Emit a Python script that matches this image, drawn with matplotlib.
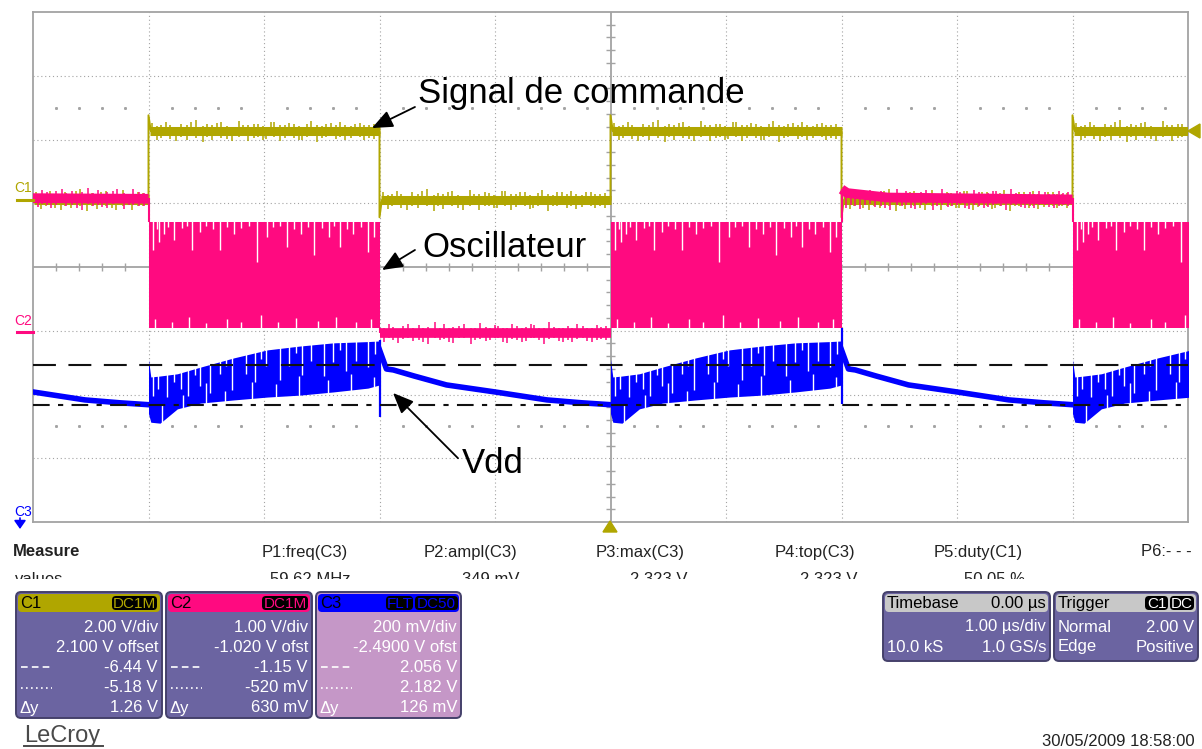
import numpy as np
import matplotlib.pyplot as plt
from matplotlib.patches import FancyBboxPatch, Polygon
from matplotlib.transforms import Bbox

plt.rcParams['font.family'] = ['Liberation Sans', 'DejaVu Sans']

W, H = 1202, 749

# scope settings
c1_vdiv, c1_ofst = 2.00, 2.100
c2_vdiv, c2_ofst = 1.00, -1.020
c3_vdiv, c3_ofst = 0.200, -2.4900
c3_cursor_dashdot = 2.056
c3_cursor_dash = 2.182

# C1 - command signal (µs, V)
c1_t = [-5.0, -4.0, -4.0, -3.98, -2.0, -2.0, -1.98, 0.0, 0.0, 0.02, 2.0, 2.0, 2.02, 4.0, 4.0, 4.02, 5.0]
c1_v = [0.0, 0.0, 2.66, 2.16, 2.16, -0.54, 0.0, 0.0, 2.66, 2.16, 2.16, -0.54, 0.0, 0.0, 2.66, 2.16, 2.16]
c1_segments = [(-5.0, -4.0, 0.0), (-4.0, -2.0, 2.16), (-2.0, 0.0, 0.0),
               (0.0, 2.0, 2.16), (2.0, 4.0, 0.0), (4.0, 5.0, 2.16)]

# C2 - oscillator: idle levels between bursts, burst envelope
c2_idle_t = [[-5.0, -4.0], [-2.0, 0.0], [2.0, 2.05, 2.4, 4.0]]
c2_idle_v = [[2.10, 2.09], [-0.02, -0.02], [2.24, 2.18, 2.11, 2.08]]
burst_starts = [-4.0, 0.0, 4.0]
c2_burst_hi, c2_burst_lo = 1.73, 0.06
c2_top_notch_tau = [0.04, 0.07, 0.09, 0.13, 0.17, 0.22, 0.29, 0.33, 0.38, 0.45, 0.5, 0.56, 0.62, 0.68,
                    0.74, 0.8, 0.87, 0.94, 1.03, 1.08, 1.14, 1.2, 1.26, 1.32, 1.38, 1.43, 1.5, 1.56,
                    1.61, 1.66, 1.72, 1.77, 1.84, 1.9, 1.95]
c2_top_notch_len = [0.44, 0.12, 0.31, 0.19, 0.08, 0.28, 0.1, 0.06, 0.44, 0.16, 0.07, 0.12, 0.44, 0.08,
                    0.19, 0.1, 0.07, 0.63, 0.24, 0.09, 0.06, 0.39, 0.11, 0.19, 0.08, 0.52, 0.1, 0.24,
                    0.07, 0.39, 0.12, 0.19, 0.08, 0.47, 0.24]
c2_bot_notch_tau = [0.06, 0.2, 0.35, 0.5, 0.68, 0.8, 0.97, 1.12, 1.28, 1.47, 1.62, 1.8, 1.93]
c2_bot_notch_len = [0.14, 0.1, 0.18, 0.08, 0.15, 0.1, 0.2, 0.09, 0.16, 0.12, 0.18, 0.1, 0.14]

# C3 - Vdd: discharge after each falling edge, ripple while oscillating
fall_starts = [-6.0, -2.0, 2.0]
c3_decay_tau = [0.0, 0.06, 0.12, 0.3, 0.58, 1.0, 1.45, 1.75, 2.0]
c3_decay_v = [2.23, 2.17, 2.167, 2.148, 2.12, 2.098, 2.073, 2.064, 2.058]
c3_burst_tau = [0.0, 0.02, 0.1, 0.25, 0.45, 0.74, 1.03, 1.31, 1.6, 1.9, 2.0]
c3_burst_top = [2.20, 2.145, 2.148, 2.155, 2.176, 2.205, 2.230, 2.242, 2.252, 2.256, 2.258]
c3_burst_bot = [2.03, 2.003, 2.0, 2.045, 2.063, 2.073, 2.082, 2.088, 2.098, 2.110, 2.120]
c3_top_notch_tau = [0.04, 0.08, 0.16, 0.22, 0.28, 0.34, 0.4, 0.45, 0.53, 0.62, 0.67, 0.72, 0.84, 0.92,
                    0.97, 1.02, 1.14, 1.22, 1.28, 1.33, 1.41, 1.52, 1.6, 1.66, 1.71, 1.8, 1.9, 1.96]
c3_top_notch_len = [0.3, 0.2, 0.35, 0.12, 0.25, 0.4, 0.1, 0.3, 0.45, 0.2, 0.1, 0.5, 0.3, 0.45,
                    0.12, 0.25, 0.5, 0.3, 0.1, 0.45, 0.25, 0.5, 0.3, 0.12, 0.45, 0.3, 0.4, 0.2]
c3_bot_notch_tau = [0.12, 0.3, 0.5, 0.66, 0.9, 1.1, 1.3, 1.55, 1.75, 1.95]
c3_bot_notch_len = [0.25, 0.2, 0.3, 0.15, 0.25, 0.2, 0.3, 0.2, 0.25, 0.15]
c3_edge_lo = [2.019, 2.06]
c3_edge_hi = [2.26, 2.30]

# small noise excursions on the flat traces (µs from segment start, div from trace centre)
flat_spike_tau = [0.03, 0.07, 0.11, 0.15, 0.19, 0.24, 0.28, 0.33, 0.37, 0.41, 0.47, 0.51, 0.55,
                  0.59, 0.63, 0.68, 0.72, 0.78, 0.82, 0.86, 0.91, 0.95, 0.99, 1.02, 1.06, 1.09,
                  1.14, 1.18, 1.22, 1.26, 1.3, 1.33, 1.37, 1.41, 1.46, 1.5, 1.54, 1.58, 1.62,
                  1.66, 1.7, 1.75, 1.79, 1.83, 1.87, 1.91, 1.95]
flat_spike_hi = [0.13, 0.08, 0.1, 0.15, 0.09, 0.07, 0.12, 0.1, 0.14, 0.17, 0.08, 0.11, 0.09,
                 0.13, 0.15, 0.08, 0.07, 0.16, 0.1, 0.09, 0.12, 0.11, 0.08, 0.07, 0.14, 0.15,
                 0.09, 0.1, 0.13, 0.12, 0.08, 0.07, 0.11, 0.16, 0.09, 0.08, 0.12, 0.13, 0.1,
                 0.14, 0.09, 0.08, 0.12, 0.13, 0.1, 0.09, 0.11]
flat_spike_lo = [0.08, 0.14, 0.1, 0.07, 0.12, 0.15, 0.09, 0.13, 0.08, 0.1, 0.17, 0.09, 0.14,
                 0.08, 0.1, 0.12, 0.15, 0.09, 0.08, 0.16, 0.1, 0.09, 0.13, 0.12, 0.08, 0.09,
                 0.15, 0.11, 0.08, 0.1, 0.14, 0.13, 0.09, 0.08, 0.17, 0.1, 0.09, 0.08, 0.12,
                 0.09, 0.14, 0.11, 0.08, 0.09, 0.13, 0.1, 0.12]

# measurement strip
measure_names = ['P1:freq(C3)', 'P2:ampl(C3)', 'P3:max(C3)', 'P4:top(C3)', 'P5:duty(C1)', 'P6:- - -']
measure_values = ['59.62 MHz', '349 mV', '2.323 V', '2.323 V', '50.05 %', '']
measure_right = [348, 517, 685, 855, 1023, 1192]

c1_rows = ['2.00 V/div', '2.100 V offset', '-6.44 V', '-5.18 V', '1.26 V']
c2_rows = ['1.00 V/div', '-1.020 V ofst', '-1.15 V', '-520 mV', '630 mV']
c3_rows = ['200 mV/div', '-2.4900 V ofst', '2.056 V', '2.182 V', '126 mV']

YEL = '#b0a600'
PNK = '#ff0a80'
BLU = '#0000ff'
GRID = '#a3a3a3'
BODY = '#6b64a1'
EDGE = '#45416b'


def d1(v):
    return (np.asarray(v) + c1_ofst) / c1_vdiv


def d2(v):
    return (np.asarray(v) + c2_ofst) / c2_vdiv


def d3(v):
    return (np.asarray(v) + c3_ofst) / c3_vdiv


fig = plt.figure(figsize=(W / 100, H / 100), dpi=100)
fig.patch.set_facecolor('white')

ax = fig.add_axes([33 / W, 1 - 522 / H, 1155 / W, 510 / H])
ax.set_xlim(-5, 5)
ax.set_ylim(-4, 4)
ax.set_xticks([])
ax.set_yticks([])
for s in ax.spines.values():
    s.set_color(GRID)
    s.set_linewidth(1.3)

# graticule
for x in range(-4, 5):
    if x != 0:
        ax.axvline(x, color=GRID, lw=0.8, ls=(0, (1, 2.5)), zorder=1)
for y in range(-3, 4):
    if y != 0:
        ax.axhline(y, color=GRID, lw=0.8, ls=(0, (1, 2.5)), zorder=1)
ax.axhline(0, color=GRID, lw=1.3, zorder=1)
ax.axvline(0, color=GRID, lw=1.3, zorder=1)
minor_x = np.arange(-4.8, 5.0, 0.2)
minor_x = minor_x[np.abs(minor_x - np.round(minor_x)) > 0.05]
ax.vlines(minor_x, -0.07, 0.07, color=GRID, lw=1.0, zorder=1)
minor_y = np.arange(-3.8, 4.0, 0.2)
minor_y = minor_y[np.abs(minor_y - np.round(minor_y)) > 0.05]
ax.hlines(minor_y, -0.035, 0.035, color=GRID, lw=1.0, zorder=1)
for yy in (2.5, -2.5):
    ax.plot(minor_x, np.full(len(minor_x), yy), ls='none', marker='s', ms=1.1, color=GRID, zorder=1)


def flat_noise(t0, t1, level_div, color, z, flip=False):
    tau = np.array(flat_spike_tau)
    keep = tau < (t1 - t0) - 0.02
    hi = np.array(flat_spike_hi)[keep]
    lo = np.array(flat_spike_lo)[keep]
    if flip:
        hi, lo = lo, hi
    ax.vlines(t0 + tau[keep], level_div - lo, level_div + hi, color=color, lw=1.1, zorder=z)


# C1: thin edges, thick noisy levels
ax.plot(c1_t, d1(c1_v), color=YEL, lw=1.4, zorder=3)
for t0, t1, lvl in c1_segments:
    ax.plot([t0 + 0.01, t1], [d1(lvl), d1(lvl)], color=YEL, lw=6.5, solid_capstyle='butt', zorder=3)
    flat_noise(t0, t1, d1(lvl), YEL, 3)

# C2
for ts, vs in zip(c2_idle_t, c2_idle_v):
    ax.plot(ts, d2(vs), color=PNK, lw=7.0, solid_capstyle='butt', zorder=4)
    flat_noise(ts[0] + 0.01, ts[-1], d2(vs[-1]), PNK, 4, flip=True)
for b in burst_starts:
    ax.fill_between([b, b + 2.0], d2(c2_burst_lo), d2(c2_burst_hi), color=PNK, lw=0, zorder=4)
    tn = b + np.array(c2_top_notch_tau)
    ax.vlines(tn, d2(c2_burst_hi) - np.array(c2_top_notch_len), d2(c2_burst_hi) + 0.02,
              color='white', lw=1.0, zorder=4)
    tb = b + np.array(c2_bot_notch_tau)
    ax.vlines(tb, d2(c2_burst_lo) - 0.02, d2(c2_burst_lo) + np.array(c2_bot_notch_len),
              color='white', lw=1.0, zorder=4)
# edges joining idle level and bursts
ax.vlines([-4.0, 4.0], d2(c2_burst_hi), d2(2.1), color=PNK, lw=1.5, zorder=4)
ax.vlines([-2.0], d2(-0.02), d2(c2_burst_lo), color=PNK, lw=1.5, zorder=4)
ax.vlines([2.0], d2(c2_burst_hi), d2(2.24), color=PNK, lw=1.5, zorder=4)

# C3
for f in fall_starts:
    ax.plot(f + np.array(c3_decay_tau), d3(c3_decay_v), color=BLU, lw=4.0, zorder=5)
for b in burst_starts:
    tt = b + np.array(c3_burst_tau)
    top = d3(c3_burst_top)
    bot = d3(c3_burst_bot)
    ax.fill_between(tt, bot, top, color=BLU, lw=0, zorder=5)
    tn = np.array(c3_top_notch_tau)
    ytop = np.interp(tn, c3_burst_tau, top)
    ax.vlines(b + tn, ytop - np.array(c3_top_notch_len), ytop + 0.02, color='white', lw=1.0, zorder=5)
    tb = np.array(c3_bot_notch_tau)
    ybot = np.interp(tb, c3_burst_tau, bot)
    ax.vlines(b + tb, ybot - 0.02, ybot + np.array(c3_bot_notch_len), color='white', lw=1.0, zorder=5)
ax.vlines([-2.0, 2.0], d3(c3_edge_lo), d3(c3_edge_hi), color=BLU, lw=1.6, zorder=5)

# C3 cursors
ax.axhline(d3(c3_cursor_dash), color='#111111', lw=1.5, ls=(0, (11, 6)), zorder=6)
ax.axhline(d3(c3_cursor_dashdot), color='#111111', lw=1.5, ls=(0, (8, 4, 2.5, 4)), zorder=6)

# annotations
arrow = dict(arrowstyle='-|>,head_length=0.9,head_width=0.38', color='black', lw=1.3,
             shrinkA=0, shrinkB=0, mutation_scale=14)
ax.text(-1.667, 2.57, 'Signal de commande', fontsize=25, va='baseline', ha='left', zorder=7)
ax.annotate('', xy=(-2.065, 2.18), xytext=(-1.693, 2.51), arrowprops=arrow, zorder=7)
ax.text(-1.632, 0.157, 'Oscillateur', fontsize=25, va='baseline', ha='left', zorder=7)
ax.annotate('', xy=(-1.978, -0.047), xytext=(-1.693, 0.267), arrowprops=arrow, zorder=7)
ax.text(-1.286, -3.23, 'Vdd', fontsize=25, va='baseline', ha='left', zorder=7)
ax.annotate('', xy=(-1.883, -1.976), xytext=(-1.32, -3.0), arrowprops=arrow, zorder=7)

# overlay in pixel units for the labels and status panels
ap = fig.add_axes([0, 0, 1, 1], zorder=5)
ap.set_xlim(0, W)
ap.set_ylim(H, 0)
ap.axis('off')
ap.patch.set_alpha(0)

# channel markers on the left edge
ap.text(14, 188, 'C1', color=YEL, fontsize=10, va='center', ha='left')
ap.plot([17, 33], [200, 200], color=YEL, lw=2.2)
ap.text(14, 321, 'C2', color=PNK, fontsize=10, va='center', ha='left')
ap.plot([17, 33], [332, 332], color=PNK, lw=2.2)
ap.text(14, 512, 'C3', color=BLU, fontsize=10, va='center', ha='left')
ap.annotate('', xy=(20, 529), xytext=(20, 518),
            arrowprops=dict(arrowstyle='-|>,head_length=0.5,head_width=0.35', color=BLU, lw=1.2,
                            shrinkA=0, shrinkB=0, mutation_scale=10))
ap.add_patch(Polygon([(1188, 131), (1200, 124), (1200, 138)], closed=True, color=YEL))
ap.add_patch(Polygon([(610, 521), (603, 532), (617, 532)], closed=True, color=YEL))

# measurement strip
ap.text(13, 552, 'Measure', fontsize=12, fontweight='bold', va='center', ha='left', color='#222222')
for name, xr in zip(measure_names, measure_right):
    ap.text(xr, 552, name, fontsize=12, va='center', ha='right', color='#222222')
clip = Bbox([[0, H - 579], [W, H - 565]])
t = ap.text(15, 572, 'values', fontsize=12, va='top', ha='left', color='#222222')
t.set_clip_box(clip)
t.set_clip_on(True)
for val, xr in zip(measure_values, measure_right):
    if val:
        t = ap.text(xr + 2, 572, val, fontsize=12, va='top', ha='right', color='#222222')
        t.set_clip_box(clip)
        t.set_clip_on(True)


def badge(x0, x1, label, color):
    ap.add_patch(FancyBboxPatch((x0, 596), x1 - x0, 14, boxstyle='round,pad=0,rounding_size=4',
                                fc='black', ec='none', zorder=7))
    ap.text((x0 + x1) / 2, 603.5, label, color=color, fontsize=11, va='center', ha='center', zorder=8)


def panel(x0, x1, y1, head_color, body_color, title, title_color='black'):
    ap.add_patch(FancyBboxPatch((x0, 592), x1 - x0, y1 - 592, boxstyle='round,pad=0,rounding_size=5',
                                fc=body_color, ec=EDGE, lw=1.4, zorder=5))
    ap.add_patch(FancyBboxPatch((x0 + 2, 594), x1 - x0 - 4, 18, boxstyle='round,pad=0,rounding_size=4',
                                fc=head_color, ec='none', zorder=6))
    ap.text(x0 + 4, 603.5, title, color=title_color, fontsize=12, va='center', ha='left', zorder=8)


row_y = [627, 647, 667, 688, 708]
for (x0, x1, hc, bc, title, rows) in [(16, 162, YEL, BODY, 'C1', c1_rows),
                                      (166, 312, PNK, BODY, 'C2', c2_rows),
                                      (316, 461, BLU, '#c597c7', 'C3', c3_rows)]:
    panel(x0, x1, 718, hc, bc, title)
    for txt, yy in zip(rows, row_y):
        ap.text(x1 - 4, yy, txt, color='white', fontsize=12, va='center', ha='right', zorder=8)
    ap.text(x0 + 4, row_y[4], 'Δy', color='white', fontsize=12, va='center', ha='left', zorder=8)
    ap.plot([x0 + 5, x0 + 36], [row_y[2], row_y[2]], color='white', lw=1.2, ls=(0, (4, 2.5)), zorder=8)
    ap.plot([x0 + 5, x0 + 36], [row_y[3], row_y[3]], color='white', lw=1.2, ls=(0, (1, 2)), zorder=8)

badge(112, 157, 'DC1M', YEL)
badge(262, 308, 'DC1M', PNK)
badge(386, 413, 'FLT', BLU)
badge(415, 458, 'DC50', BLU)

panel(883, 1050, 661, '#c8c8c8', BODY, 'Timebase')
ap.text(1046, 603.5, '0.00 µs', fontsize=12, va='center', ha='right', zorder=8)
ap.text(1046, 627, '1.00 µs/div', color='white', fontsize=12, va='center', ha='right', zorder=8)
ap.text(887, 647, '10.0 kS', color='white', fontsize=12, va='center', ha='left', zorder=8)
ap.text(1046, 647, '1.0 GS/s', color='white', fontsize=12, va='center', ha='right', zorder=8)

panel(1054, 1198, 661, '#c8c8c8', BODY, 'Trigger')
badge(1145, 1168, 'C1', 'white')
badge(1170, 1194, 'DC', 'white')
ap.text(1058, 627, 'Normal', color='white', fontsize=12, va='center', ha='left', zorder=8)
ap.text(1194, 627, '2.00 V', color='white', fontsize=12, va='center', ha='right', zorder=8)
ap.text(1058, 647, 'Edge', color='white', fontsize=12, va='center', ha='left', zorder=8)
ap.text(1194, 647, 'Positive', color='white', fontsize=12, va='center', ha='right', zorder=8)

# footer
ap.text(24, 736, 'LeCroy', fontsize=17, color='#4a4a4a', va='center', ha='left')
ap.plot([24, 103], [746, 746], color='#4a4a4a', lw=1.4)
ap.text(1195, 741, '30/05/2009 18:58:00', fontsize=12, color='#222222', va='center', ha='right')

fig.savefig('out.png', dpi=100)
